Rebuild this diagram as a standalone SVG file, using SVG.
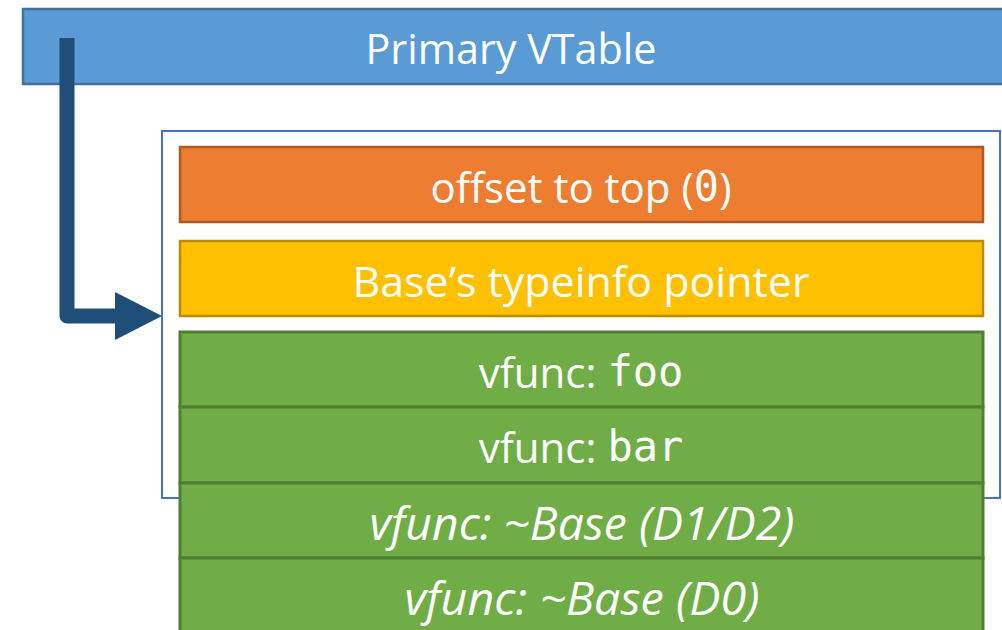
<svg xmlns="http://www.w3.org/2000/svg" width="1002" height="630" viewBox="0 0 1002 630">
<style>
.t{font-family:"Open Sans","Noto Sans",sans-serif;font-size:42px;fill:#fff;text-anchor:middle;dominant-baseline:central}
.m{font-family:"DejaVu Sans Mono","Liberation Mono",monospace}
.i{font-style:italic;font-size:45px}
.green{fill:#70AD47;stroke:#507E32;stroke-width:3}
</style>
<rect width="1002" height="630" fill="#fff"/>
<g id="primary">
<rect x="23" y="9" width="990" height="75" fill="#5B9BD5" stroke="#41719C" stroke-width="2.5"/>
<text class="t" x="511" y="47" textLength="291" lengthAdjust="spacingAndGlyphs">Primary VTable</text>
</g>
<g id="container">
<rect x="162" y="131" width="838" height="367" fill="#fff" stroke="#4472C4" stroke-width="2"/>
</g>
<g id="offset">
<rect x="180" y="147" width="803" height="75" fill="#ED7D31" stroke="#AE5A21" stroke-width="2.5"/>
<text class="t" x="581" y="186">offset to top (<tspan class="m">0</tspan>)</text>
</g>
<g id="typeinfo">
<rect x="180" y="241" width="803" height="75" fill="#FFC000" stroke="#BC8C00" stroke-width="2.5"/>
<text class="t" x="581" y="280" textLength="457" lengthAdjust="spacingAndGlyphs">Base’s typeinfo pointer</text>
</g>
<g id="foo">
<rect class="green" x="180" y="332" width="803" height="75"/>
<text class="t" x="581" y="371">vfunc: <tspan class="m">foo</tspan></text>
</g>
<g id="bar">
<rect class="green" x="180" y="407" width="803" height="76"/>
<text class="t" x="581" y="446">vfunc: <tspan class="m">bar</tspan></text>
</g>
<g id="dtor12">
<rect class="green" x="180" y="483" width="803" height="75"/>
<text class="t i" x="582" y="522" textLength="425" lengthAdjust="spacingAndGlyphs">vfunc: ~Base (D1/D2)</text>
</g>
<g id="dtor0">
<rect class="green" x="180" y="558" width="803" height="80"/>
<text class="t i" x="582" y="597" textLength="355" lengthAdjust="spacingAndGlyphs">vfunc: ~Base (D0)</text>
</g>
<g id="connectors">
<path d="M67,38 V316 H118" fill="none" stroke="#1F4E79" stroke-width="15" stroke-linejoin="round"/>
<polygon points="115,292 162,316 115,340" fill="#1F4E79"/>
</g>
</svg>
